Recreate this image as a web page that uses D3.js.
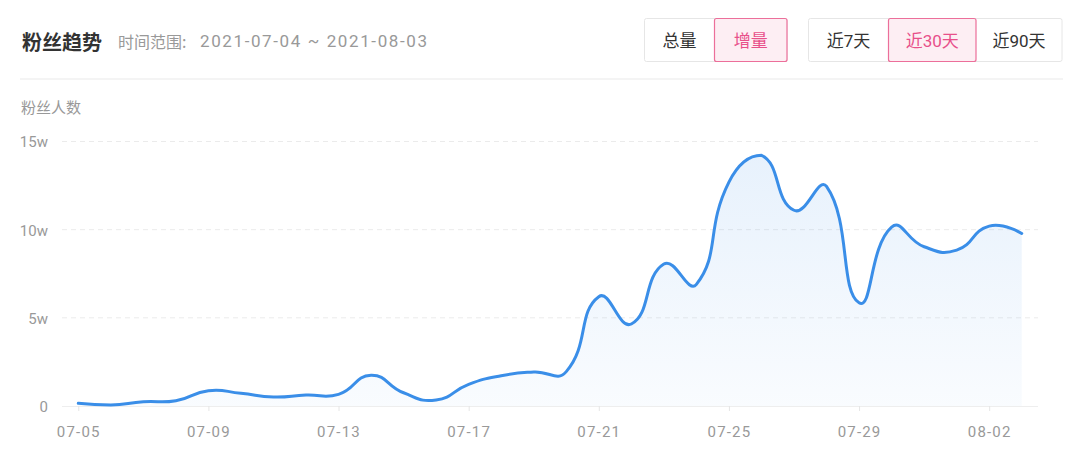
<!DOCTYPE html>
<html>
<head>
<meta charset="utf-8">
<script src="https://cdn.jsdelivr.net/npm/d3@7/dist/d3.min.js"></script>
<style>
  html, body { margin: 0; padding: 0; background: #fff; }
  svg { display: block; font-family: Roboto, "Noto Sans CJK SC", sans-serif; }
</style>
</head>
<body>
<svg id="chart" width="1080" height="474"></svg>
<script>
// ---------- data ----------
const titleText = "粉丝趋势";
const rangeLabel = "时间范围:";
const rangeText = "2021-07-04 ~ 2021-08-03";
const yAxisName = "粉丝人数";
const modeButtons = ["总量", "增量"];
const modeActive = 1;
const periodButtons = ["近7天", "近30天", "近90天"];
const periodActive = 1;

const dates = ["07-05","07-06","07-07","07-08","07-09","07-10","07-11","07-12","07-13","07-14",
               "07-15","07-16","07-17","07-18","07-19","07-20","07-21","07-22","07-23","07-24",
               "07-25","07-26","07-27","07-28","07-29","07-30","07-31","08-01","08-02","08-03"];
const fans = [1500, 500, 2400, 3000, 8700, 7200, 5100, 6200, 6600, 17400,
              7500, 3400, 12300, 17200, 19300, 19500, 62000, 46500, 80500, 69000,
              127000, 142200, 111000, 124500, 58500, 101500, 90300, 88400, 102000, 97800];
const yTicks = [0, 50000, 100000, 150000];
const xTickDates = ["07-05","07-09","07-13","07-17","07-21","07-25","07-29","08-02"];

// ---------- ECharts-like smooth curve for d3 ----------
function echartsSmooth(smooth) {
  function Curve(context) { this._context = context; }
  Curve.prototype = {
    areaStart() { this._line = 0; },
    areaEnd() { this._line = NaN; },
    lineStart() { this._pts = []; },
    point(x, y) { this._pts.push([+x, +y]); },
    lineEnd() {
      const p = this._pts, n = p.length, ctx = this._context;
      if (n) {
        if (this._line) ctx.lineTo(p[0][0], p[0][1]); else ctx.moveTo(p[0][0], p[0][1]);
        const minX = d3.min(p, d => d[0]), maxX = d3.max(p, d => d[0]);
        const minY = d3.min(p, d => d[1]), maxY = d3.max(p, d => d[1]);
        const clamp = c => [Math.max(minX, Math.min(maxX, c[0])), Math.max(minY, Math.min(maxY, c[1]))];
        let cp0 = p[0].slice();
        for (let i = 1; i < n; i++) {
          const cur = p[i], prev = p[i - 1], next = p[i + 1];
          let cp1, ratio = 0.5, vx = 0, vy = 0;
          if (!next) {
            cp1 = cur.slice();
          } else {
            vx = next[0] - prev[0]; vy = next[1] - prev[1];
            const l0 = Math.hypot(cur[0] - prev[0], cur[1] - prev[1]);
            const l1 = Math.hypot(next[0] - cur[0], next[1] - cur[1]);
            ratio = (l0 + l1) ? l1 / (l0 + l1) : 0.5;
            cp1 = [cur[0] - vx * smooth * (1 - ratio), cur[1] - vy * smooth * (1 - ratio)];
          }
          const a = clamp(cp0), b = clamp(cp1);
          ctx.bezierCurveTo(a[0], a[1], b[0], b[1], cur[0], cur[1]);
          cp0 = [cur[0] + vx * smooth * ratio, cur[1] + vy * smooth * ratio];
        }
      }
      if (this._line === 1) ctx.closePath();
      this._line = 1 - this._line;
    }
  };
  return ctx => new Curve(ctx);
}

// ---------- layout ----------
const svg = d3.select("#chart");
const plot = { left: 62, right: 1038, top: 141.5, bottom: 406 };

const x = d3.scalePoint().domain(dates).range([plot.left, plot.right]).padding(0.5);
const y = d3.scaleLinear().domain([0, 150000]).range([plot.bottom, plot.top]);

// ---------- header ----------
svg.append("text").attr("x", 22).attr("y", 41).attr("dominant-baseline", "central")
  .attr("font-size", 20).attr("font-weight", 700).attr("fill", "#333")
  .attr("font-family", "'Noto Sans CJK SC', sans-serif").text(titleText);
svg.append("text").attr("x", 118).attr("y", 41).attr("dominant-baseline", "central")
  .attr("font-size", 16).attr("fill", "#999")
  .attr("font-family", "'Noto Sans CJK SC', sans-serif").text(rangeLabel);
svg.append("text").attr("x", 200).attr("y", 41).attr("dominant-baseline", "central")
  .attr("font-size", 17).attr("fill", "#999")
  .attr("textLength", 227).attr("lengthAdjust", "spacing").text(rangeText);

function buttonGroup(labels, active, x0, widths) {
  const g = svg.append("g");
  const top = 18.5, h = 43;
  const total = d3.sum(widths);
  g.append("rect").attr("x", x0).attr("y", top).attr("width", total).attr("height", h)
    .attr("rx", 2).attr("fill", "#fff").attr("stroke", "#e6e6e6");
  let cx = x0;
  labels.forEach((lab, i) => {
    const w = widths[i];
    const isA = i === active;
    if (isA) {
      g.append("rect").attr("x", cx).attr("y", top).attr("width", w).attr("height", h)
        .attr("rx", 2).attr("fill", "#fdeef3").attr("stroke", "#ec6f9a").attr("stroke-width", 1.2);
    }
    g.append("text").attr("x", cx + w / 2).attr("y", top + h / 2 + 0.5)
      .attr("text-anchor", "middle").attr("dominant-baseline", "central")
      .attr("font-size", 17).attr("fill", isA ? "#e8508a" : "#333").text(lab);
    cx += w;
  });
}
buttonGroup(modeButtons, modeActive, 644.5, [70, 72.5]);
buttonGroup(periodButtons, periodActive, 808.5, [80, 87.5, 86]);

svg.append("line").attr("x1", 20).attr("x2", 1063).attr("y1", 79).attr("y2", 79)
  .attr("stroke", "#f1f1f1").attr("stroke-width", 1.5);

svg.append("text").attr("x", 21).attr("y", 106).attr("dominant-baseline", "central")
  .attr("font-size", 15).attr("fill", "#999")
  .attr("font-family", "'Noto Sans CJK SC', sans-serif").text(yAxisName);

// ---------- grid ----------
svg.append("g").selectAll("line").data(yTicks.filter(d => d > 0)).join("line")
  .attr("x1", plot.left).attr("x2", plot.right)
  .attr("y1", d => y(d)).attr("y2", d => y(d))
  .attr("stroke", "#ebebeb").attr("stroke-dasharray", "5 4");

// ---------- y axis ----------
const yAxis = d3.axisLeft(y).tickValues(yTicks).tickSize(0).tickPadding(14)
  .tickFormat(d => d === 0 ? "0" : (d / 10000) + "w");
const gy = svg.append("g").attr("transform", `translate(${plot.left},0)`).call(yAxis);
gy.select(".domain").remove();
gy.selectAll("text").attr("font-size", 15).attr("fill", "#999")
  .attr("font-family", "Roboto, sans-serif").attr("dy", "0.36em");

// ---------- x axis ----------
const xAxis = d3.axisBottom(x).tickValues(xTickDates).tickSizeInner(5).tickSizeOuter(0).tickPadding(15);
const gx = svg.append("g").attr("transform", `translate(0,${plot.bottom})`).call(xAxis);
gx.select(".domain").attr("stroke", "#eeeeee").attr("d", `M${plot.left},0.5H${plot.right}`);
gx.selectAll(".tick line").attr("stroke", "#e6e6e6");
gx.selectAll("text").attr("font-size", 15).attr("fill", "#999")
  .attr("font-family", "Roboto, sans-serif").attr("letter-spacing", "1.2px");

// ---------- area + line ----------
const defs = svg.append("defs");
const grad = defs.append("linearGradient").attr("id", "areaGrad")
  .attr("x1", 0).attr("y1", 0).attr("x2", 0).attr("y2", 1);
grad.append("stop").attr("offset", "0%").attr("stop-color", "rgb(58,142,232)").attr("stop-opacity", 0.12);
grad.append("stop").attr("offset", "100%").attr("stop-color", "rgb(58,142,232)").attr("stop-opacity", 0.03);

const curve = echartsSmooth(0.5);
const area = d3.area().x((d, i) => x(dates[i])).y0(plot.bottom).y1(d => y(d)).curve(curve);
const line = d3.line().x((d, i) => x(dates[i])).y(d => y(d)).curve(curve);

svg.append("path").datum(fans).attr("d", area).attr("fill", "url(#areaGrad)");
svg.append("path").datum(fans).attr("d", line).attr("fill", "none")
  .attr("stroke", "#3a8ee8").attr("stroke-width", 3).attr("stroke-linejoin", "round").attr("stroke-linecap", "round");
</script>
</body>
</html>
